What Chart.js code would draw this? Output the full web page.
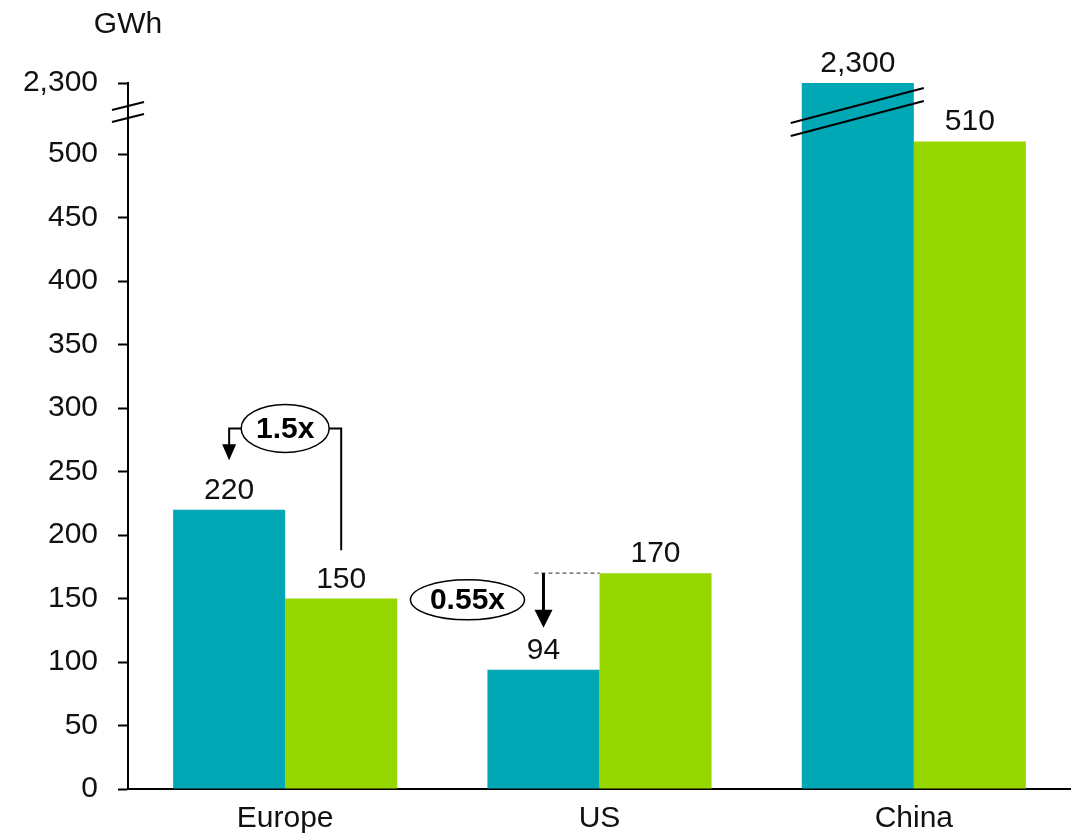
<!DOCTYPE html>
<html>
<head>
<meta charset="utf-8">
<script src="https://cdn.jsdelivr.net/npm/chart.js@4"></script>
<style>
  html, body { margin: 0; padding: 0; background: #fff; }
  #wrap { width: 1071px; height: 833px; position: relative; }
</style>
</head>
<body>
<div id="wrap"><canvas id="chart"></canvas></div>
<script>
// values
const regions = ['Europe', 'US', 'China'];
const seriesA = [220, 94, 2300];   // teal
const seriesB = [150, 170, 510];   // green
const yTicks = [0, 50, 100, 150, 200, 250, 300, 350, 400, 450, 500];
const breakAt = 556;               // where the broken axis shows 2,300
const breakLabel = '2,300';

const teal = '#00A7B5';
const green = '#97D700';
const FONT = '"Liberation Sans", Arial, sans-serif';

const fmt = v => v.toLocaleString('en-US');
const clip = v => Math.min(v, breakAt);

const annotate = {
    id: 'annotate',
    afterDatasetsDraw(chart) {
        const ctx = chart.ctx;
        const x = chart.scales.x, y = chart.scales.y;
        const area = chart.chartArea;
        ctx.save();

        // value labels
        ctx.font = '30px ' + FONT;
        ctx.fillStyle = '#111';
        ctx.textAlign = 'center';
        ctx.textBaseline = 'alphabetic';
        [seriesA, seriesB].forEach((vals, d) => {
            chart.getDatasetMeta(d).data.forEach((bar, i) => {
                ctx.fillText(fmt(vals[i]), bar.x, bar.y - 11);
            });
        });

        // unit
        ctx.fillText('GWh', area.left, 33);

        ctx.strokeStyle = '#000';
        ctx.fillStyle = '#000';

        // break on the y axis
        const by = y.getPixelForValue(breakAt);
        ctx.lineWidth = 2;
        [23, 35].forEach(off => {
            ctx.beginPath();
            ctx.moveTo(area.left - 16, by + off + 4);
            ctx.lineTo(area.left + 16, by + off - 4);
            ctx.stroke();
        });

        // break on the tall China bar
        const cb = chart.getDatasetMeta(0).data[2];
        [40, 53].forEach(off => {
            ctx.beginPath();
            ctx.moveTo(cb.x - cb.width / 2 - 11, cb.y + off);
            ctx.lineTo(cb.x + cb.width / 2 + 10, cb.y + off - 35);
            ctx.stroke();
        });

        const ellipse = (cx, cy, rx, ry, txt) => {
            ctx.lineWidth = 1.5;
            ctx.fillStyle = '#fff';
            ctx.beginPath();
            ctx.ellipse(cx, cy, rx, ry, 0, 0, Math.PI * 2);
            ctx.fill();
            ctx.stroke();
            ctx.fillStyle = '#000';
            ctx.font = 'bold 30px ' + FONT;
            ctx.textBaseline = 'middle';
            ctx.fillText(txt, cx, cy + 1);
        };
        const arrowHead = (ax, tipY, w, h) => {
            ctx.beginPath();
            ctx.moveTo(ax - w / 2, tipY - h);
            ctx.lineTo(ax + w / 2, tipY - h);
            ctx.lineTo(ax, tipY);
            ctx.closePath();
            ctx.fill();
        };

        // Europe 1.5x
        const eA = chart.getDatasetMeta(0).data[0];
        const eB = chart.getDatasetMeta(1).data[0];
        const ecx = x.getPixelForValue(0), ecy = y.getPixelForValue(284);
        ctx.lineWidth = 2;
        ctx.beginPath();
        ctx.moveTo(eB.x, y.getPixelForValue(188));
        ctx.lineTo(eB.x, ecy);
        ctx.lineTo(ecx + 40, ecy);
        ctx.moveTo(ecx - 40, ecy);
        ctx.lineTo(eA.x, ecy);
        ctx.lineTo(eA.x, y.getPixelForValue(270));
        ctx.stroke();
        arrowHead(eA.x, y.getPixelForValue(259), 14, 16);
        ellipse(ecx, ecy, 44, 24, '1.5x');

        // US 0.55x
        const uA = chart.getDatasetMeta(0).data[1];
        const uB = chart.getDatasetMeta(1).data[1];
        const top = y.getPixelForValue(seriesB[1]);
        ctx.lineWidth = 1.2;
        ctx.strokeStyle = '#555';
        ctx.setLineDash([4, 3]);
        ctx.beginPath();
        ctx.moveTo(uA.x - 9, top);
        ctx.lineTo(uB.x - uB.width / 2, top);
        ctx.stroke();
        ctx.setLineDash([]);
        ctx.strokeStyle = '#000';
        ctx.lineWidth = 3;
        ctx.beginPath();
        ctx.moveTo(uA.x, top);
        ctx.lineTo(uA.x, y.getPixelForValue(135));
        ctx.stroke();
        arrowHead(uA.x, y.getPixelForValue(127), 18, 18);
        ellipse(uA.x - 76, y.getPixelForValue(149), 57, 20, '0.55x');

        ctx.restore();
    }
};

new Chart(document.getElementById('chart'), {
    type: 'bar',
    data: {
        labels: regions,
        datasets: [
            { data: seriesA.map(clip), backgroundColor: teal, borderWidth: 0 },
            { data: seriesB.map(clip), backgroundColor: green, borderWidth: 0 }
        ]
    },
    options: {
        responsive: true,
        maintainAspectRatio: false,
        animation: false,
        devicePixelRatio: 1,
        layout: { padding: { top: 83, right: 0, left: 0, bottom: 0 } },
        plugins: { legend: { display: false }, tooltip: { enabled: false } },
        datasets: { bar: { barPercentage: 1, categoryPercentage: 0.713 } },
        scales: {
            x: {
                grid: { display: false },
                border: { display: true, color: '#000', width: 2 },
                ticks: { color: '#111', font: { family: FONT, size: 30 }, padding: 4 },
                afterFit: s => { s.height = 44; }
            },
            y: {
                min: 0,
                max: breakAt,
                afterFit: s => { s.width = 128; },
                afterBuildTicks: s => { s.ticks = yTicks.concat([breakAt]).map(v => ({ value: v })); },
                grid: { drawOnChartArea: false, drawTicks: true, tickLength: 10, color: '#000', tickWidth: 2 },
                border: { display: true, color: '#000', width: 2 },
                ticks: {
                    color: '#111',
                    padding: 20,
                    font: { family: FONT, size: 30 },
                    callback: v => v === breakAt ? breakLabel : v
                }
            }
        }
    },
    plugins: [annotate]
});
</script>
</body>
</html>
